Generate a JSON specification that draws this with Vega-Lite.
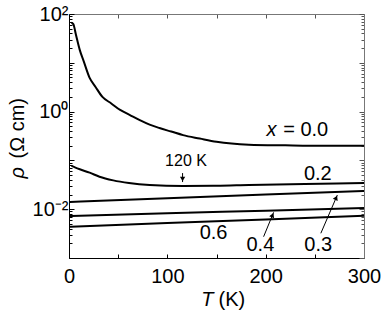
{
  "$schema": "https://vega.github.io/schema/vega-lite/v6.json",
  "width": 295,
  "height": 244,
  "autosize": "none",
  "padding": {"left": 69, "top": 14, "right": 18, "bottom": 52},
  "background": "white",
  "config": {"view": {"stroke": null}, "font": "Liberation Sans", "axis": {"grid": false}},
  "datasets": {
    "curves": [
      {"x": "0.0", "T": 2.5, "rho": 66}, {"x": "0.0", "T": 4.4, "rho": 62}, {"x": "0.0", "T": 7, "rho": 38},
      {"x": "0.0", "T": 11, "rho": 18.2}, {"x": "0.0", "T": 15, "rho": 10.7}, {"x": "0.0", "T": 21, "rho": 4.9},
      {"x": "0.0", "T": 27, "rho": 3.2}, {"x": "0.0", "T": 34, "rho": 2.0}, {"x": "0.0", "T": 43, "rho": 1.47},
      {"x": "0.0", "T": 52, "rho": 1.08}, {"x": "0.0", "T": 62, "rho": 0.85}, {"x": "0.0", "T": 72, "rho": 0.67},
      {"x": "0.0", "T": 82, "rho": 0.54}, {"x": "0.0", "T": 92, "rho": 0.46}, {"x": "0.0", "T": 104, "rho": 0.39},
      {"x": "0.0", "T": 116, "rho": 0.33}, {"x": "0.0", "T": 133, "rho": 0.28}, {"x": "0.0", "T": 150, "rho": 0.24},
      {"x": "0.0", "T": 183, "rho": 0.21}, {"x": "0.0", "T": 220, "rho": 0.204}, {"x": "0.0", "T": 260, "rho": 0.2},
      {"x": "0.0", "T": 300, "rho": 0.2},
      {"x": "0.2", "T": 2.5, "rho": 0.077}, {"x": "0.2", "T": 6, "rho": 0.072}, {"x": "0.2", "T": 11, "rho": 0.0658},
      {"x": "0.2", "T": 21, "rho": 0.056}, {"x": "0.2", "T": 31, "rho": 0.0463}, {"x": "0.2", "T": 45, "rho": 0.039},
      {"x": "0.2", "T": 61, "rho": 0.0344}, {"x": "0.2", "T": 82, "rho": 0.0313}, {"x": "0.2", "T": 116, "rho": 0.0299},
      {"x": "0.2", "T": 150, "rho": 0.0302}, {"x": "0.2", "T": 183, "rho": 0.0313}, {"x": "0.2", "T": 240, "rho": 0.0328},
      {"x": "0.2", "T": 300, "rho": 0.0344},
      {"x": "0.3", "T": 1, "rho": 0.0141}, {"x": "0.3", "T": 100, "rho": 0.01675}, {"x": "0.3", "T": 200, "rho": 0.0199}, {"x": "0.3", "T": 300, "rho": 0.0236},
      {"x": "0.4", "T": 1, "rho": 0.00726}, {"x": "0.4", "T": 100, "rho": 0.00824}, {"x": "0.4", "T": 200, "rho": 0.00934}, {"x": "0.4", "T": 300, "rho": 0.0106},
      {"x": "0.6", "T": 1, "rho": 0.00437}, {"x": "0.6", "T": 100, "rho": 0.00519}, {"x": "0.6", "T": 200, "rho": 0.00615}, {"x": "0.6", "T": 300, "rho": 0.0073}
    ],
    "labels": [
      {"text": "= 0.0", "T": 240.7, "rho": 0.42},
      {"text": "0.2", "T": 253, "rho": 0.0526},
      {"text": "0.6", "T": 147, "rho": 0.00321},
      {"text": "0.4", "T": 194.6, "rho": 0.001845},
      {"text": "0.3", "T": 253.4, "rho": 0.001845}
    ],
    "italic": [{"text": "x", "T": 206, "rho": 0.42}],
    "note": [{"text": "120 K", "T": 119, "rho": 0.0986}],
    "arrows": [
      {"id": "120K", "T": 115.5, "rho": 0.055, "T2": 115.5, "rho2": 0.036},
      {"id": "0.4", "T": 197.9, "rho": 0.00273, "T2": 208.1, "rho2": 0.00863},
      {"id": "0.3", "T": 256.1, "rho": 0.00321, "T2": 272.9, "rho2": 0.01954}
    ],
    "headDown": [{"id": "120K", "T": 115.5, "rho": 0.0416}],
    "headUp": [
      {"id": "0.4", "T": 207, "rho": 0.00757},
      {"id": "0.3", "T": 271.7, "rho": 0.01714}
    ]
  },
  "resolve": {"axis": {"x": "independent", "y": "independent"}},
  "layer": [
    {
      "data": {"name": "curves"},
      "mark": {"type": "line", "stroke": "black", "strokeWidth": 2, "interpolate": "monotone"},
      "encoding": {
        "x": {"field": "T", "type": "quantitative", "scale": {"domain": [0, 300], "nice": false},
          "axis": {"orient": "bottom", "values": [0, 50, 100, 150, 200, 250, 300],
            "labelExpr": "datum.value % 100 === 0 ? datum.label : ''",
            "tickSize": -4, "tickColor": "black", "domainColor": "black", "labelFontSize": 20, "labelColor": "black",
            "labelPadding": 12, "labelFlush": false, "labelOverlap": false,
            "title": "(K)", "titleFontSize": 20, "titleFontWeight": "normal", "titleAlign": "left", "titleX": 149, "titleY": 41,
            "titleBaseline": "middle", "titleColor": "black"}},
        "y": {"field": "rho", "type": "quantitative", "scale": {"type": "log", "domain": [0.001, 100], "nice": false},
          "axis": {"orient": "left",
            "values": [0.001,0.002,0.003,0.004,0.005,0.006,0.007,0.008,0.009,0.01,0.02,0.03,0.04,0.05,0.06,0.07,0.08,0.09,0.1,0.2,0.3,0.4,0.5,0.6,0.7,0.8,0.9,1,2,3,4,5,6,7,8,9,10,20,30,40,50,60,70,80,90,100],
            "labelExpr": "abs(log(datum.value)/LN10 - 2) < 0.01 ? '10²' : abs(log(datum.value)/LN10) < 0.01 ? '10⁰' : abs(log(datum.value)/LN10 + 2) < 0.01 ? '10⁻²' : ''",
            "tickSize": {"condition": {"test": "abs(log(datum.value)/LN10 - round(log(datum.value)/LN10)) < 0.001", "value": -5}, "value": -3},
            "tickColor": "black", "domainColor": "black", "labelFontSize": 20, "labelColor": "black",
            "labelPadding": 6, "labelFlush": false, "labelOverlap": false,
            "title": "(Ω  cm)", "titleFontSize": 20, "titleFontWeight": "normal", "titleAlign": "left", "titleAngle": -90,
            "titleX": -52, "titleY": 144, "titleBaseline": "middle", "titleColor": "black"}},
        "detail": {"field": "x", "type": "nominal"}
      }
    },
    {
      "data": {"name": "curves"},
      "mark": {"type": "line", "opacity": 0},
      "encoding": {
        "x": {"field": "T", "type": "quantitative", "scale": {"domain": [0, 300], "nice": false},
          "axis": {"orient": "top", "values": [0, 50, 100, 150, 200, 250, 300], "labels": false, "title": null,
            "tickSize": -4, "tickColor": "#555", "domainColor": "#777"}},
        "y": {"field": "rho", "type": "quantitative", "scale": {"type": "log", "domain": [0.001, 100], "nice": false},
          "axis": {"orient": "right", "labels": false, "title": null,
            "values": [0.001,0.002,0.003,0.004,0.005,0.006,0.007,0.008,0.009,0.01,0.02,0.03,0.04,0.05,0.06,0.07,0.08,0.09,0.1,0.2,0.3,0.4,0.5,0.6,0.7,0.8,0.9,1,2,3,4,5,6,7,8,9,10,20,30,40,50,60,70,80,90,100],
            "tickSize": {"condition": {"test": "abs(log(datum.value)/LN10 - round(log(datum.value)/LN10)) < 0.001", "value": -5}, "value": -3},
            "tickColor": "#555", "domainColor": "#777"}},
        "detail": {"field": "x", "type": "nominal"}
      }
    },
    {
      "data": {"name": "curves"},
      "mark": {"type": "line", "opacity": 0},
      "encoding": {
        "x": {"field": "T", "type": "quantitative", "scale": {"domain": [0, 300], "nice": false},
          "axis": {"orient": "bottom", "domain": false, "ticks": false, "labels": false,
            "title": "T", "titleFontSize": 20, "titleFontWeight": "normal", "titleFontStyle": "italic", "titleAlign": "right",
            "titleX": 144, "titleY": 41, "titleBaseline": "middle", "titleColor": "black"}},
        "y": {"field": "rho", "type": "quantitative", "scale": {"type": "log", "domain": [0.001, 100], "nice": false},
          "axis": {"orient": "left", "domain": false, "ticks": false, "labels": false,
            "title": "ρ", "titleFontSize": 20, "titleFontWeight": "normal", "titleFontStyle": "italic", "titleAlign": "left", "titleAngle": -90,
            "titleX": -52, "titleY": 164, "titleBaseline": "middle", "titleColor": "black"}},
        "detail": {"field": "x", "type": "nominal"}
      }
    },
    {
      "data": {"name": "labels"},
      "mark": {"type": "text", "fontSize": 20, "color": "black", "align": "center", "baseline": "middle"},
      "encoding": {
        "x": {"field": "T", "type": "quantitative", "scale": {"domain": [0, 300], "nice": false}, "axis": null},
        "y": {"field": "rho", "type": "quantitative", "scale": {"type": "log", "domain": [0.001, 100], "nice": false}, "axis": null},
        "text": {"field": "text"}
      }
    },
    {
      "data": {"name": "italic"},
      "mark": {"type": "text", "fontSize": 20, "fontStyle": "italic", "color": "black", "align": "center", "baseline": "middle"},
      "encoding": {
        "x": {"field": "T", "type": "quantitative", "scale": {"domain": [0, 300], "nice": false}, "axis": null},
        "y": {"field": "rho", "type": "quantitative", "scale": {"type": "log", "domain": [0.001, 100], "nice": false}, "axis": null},
        "text": {"field": "text"}
      }
    },
    {
      "data": {"name": "note"},
      "mark": {"type": "text", "fontSize": 16, "color": "black", "align": "center", "baseline": "middle"},
      "encoding": {
        "x": {"field": "T", "type": "quantitative", "scale": {"domain": [0, 300], "nice": false}, "axis": null},
        "y": {"field": "rho", "type": "quantitative", "scale": {"type": "log", "domain": [0.001, 100], "nice": false}, "axis": null},
        "text": {"field": "text"}
      }
    },
    {
      "data": {"name": "arrows"},
      "mark": {"type": "rule", "color": "black", "strokeWidth": 1},
      "encoding": {
        "x": {"field": "T", "type": "quantitative", "scale": {"domain": [0, 300], "nice": false}, "axis": null},
        "x2": {"field": "T2"},
        "y": {"field": "rho", "type": "quantitative", "scale": {"type": "log", "domain": [0.001, 100], "nice": false}, "axis": null},
        "y2": {"field": "rho2"}
      }
    },
    {
      "data": {"name": "headDown"},
      "mark": {"type": "point", "shape": "triangle-down", "filled": true, "color": "black", "size": 28, "opacity": 1},
      "encoding": {
        "x": {"field": "T", "type": "quantitative", "scale": {"domain": [0, 300], "nice": false}, "axis": null},
        "y": {"field": "rho", "type": "quantitative", "scale": {"type": "log", "domain": [0.001, 100], "nice": false}, "axis": null}
      }
    },
    {
      "data": {"name": "headUp"},
      "mark": {"type": "point", "shape": "triangle-up", "filled": true, "color": "black", "size": 28, "opacity": 1, "angle": 23},
      "encoding": {
        "x": {"field": "T", "type": "quantitative", "scale": {"domain": [0, 300], "nice": false}, "axis": null},
        "y": {"field": "rho", "type": "quantitative", "scale": {"type": "log", "domain": [0.001, 100], "nice": false}, "axis": null}
      }
    }
  ]
}
